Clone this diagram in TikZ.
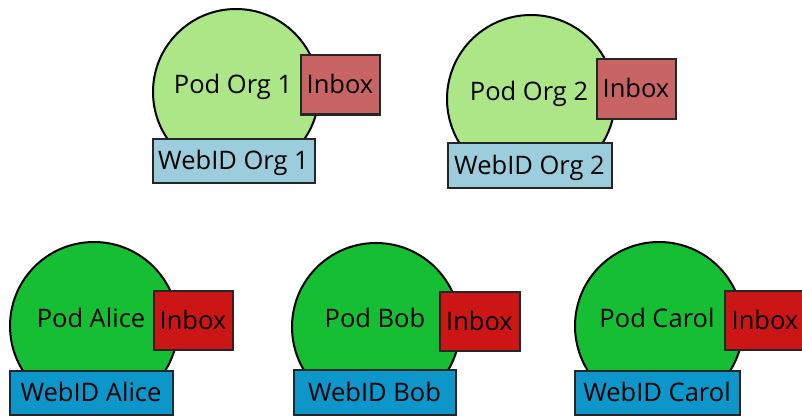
\documentclass[tikz,border=0pt]{standalone}
\usepackage{fontspec}
\setmainfont{Open Sans}
\definecolor{orgpod}{RGB}{172,230,134}
\definecolor{orginbox}{RGB}{200,100,100}
\definecolor{orgweb}{RGB}{155,205,220}
\definecolor{perpod}{RGB}{22,190,52}
\definecolor{perinbox}{RGB}{204,22,22}
\definecolor{perweb}{RGB}{12,150,202}
\begin{document}
\begin{tikzpicture}[x=1pt,y=-1pt,
  font=\fontsize{25.5}{25.5}\selectfont,
  podshape/.style={circle,draw=black,line width=2pt,inner sep=0pt,minimum size=#1},
  boxshape/.style={rectangle,draw=black!85,line width=2pt,inner sep=0pt,text height=18pt,text depth=0pt},
  inboxshape/.style={boxshape,minimum width=79pt,minimum height=59pt},
  webshape/.style={boxshape,minimum width=163pt,minimum height=44pt},
  podlabel/.style={inner sep=0pt,anchor=base}]
\useasboundingbox (0,0) rectangle (802,417);
% Org 1
\node[podshape=166pt,fill=orgpod] (pod1) at (236,92) {};
\node[podlabel] (pod1t) at (233,94) {Pod Org 1};
\node[inboxshape,fill=orginbox] (in1) at (340,85) {Inbox};
\node[webshape,fill=orgweb,minimum width=162pt] (web1) at (233.5,160.5) {WebID Org 1};
% Org 2
\node[podshape=168pt,fill=orgpod] (pod2) at (531,99) {};
\node[podlabel] (pod2t) at (529,100) {Pod Org 2};
\node[inboxshape,fill=orginbox] (in2) at (636,89) {Inbox};
\node[webshape,fill=orgweb,minimum width=164pt,minimum height=45pt] (web2) at (529.5,165) {WebID Org 2};
% Alice
\node[podshape=168pt,fill=perpod] (podA) at (94,326) {};
\node[podlabel] (podAt) at (91,327) {Pod Alice};
\node[inboxshape,fill=perinbox] (inA) at (193,320) {Inbox};
\node[webshape,fill=perweb] (webA) at (91,392.5) {WebID Alice};
% Bob
\node[podshape=168pt,fill=perpod] (podB) at (376,327) {};
\node[podlabel] (podBt) at (375,327) {Pod Bob};
\node[inboxshape,fill=perinbox,minimum width=80pt] (inB) at (479.5,321) {Inbox};
\node[webshape,fill=perweb,minimum width=162pt,minimum height=45pt] (webB) at (374.5,392) {WebID Bob};
% Carol
\node[podshape=168pt,fill=perpod] (podC) at (659,326) {};
\node[podlabel] (podCt) at (657,327) {Pod Carol};
\node[inboxshape,fill=perinbox,minimum width=80pt] (inC) at (765,320) {Inbox};
\node[webshape,fill=perweb,minimum width=165pt] (webC) at (657,392.5) {WebID Carol};
\end{tikzpicture}
\end{document}
